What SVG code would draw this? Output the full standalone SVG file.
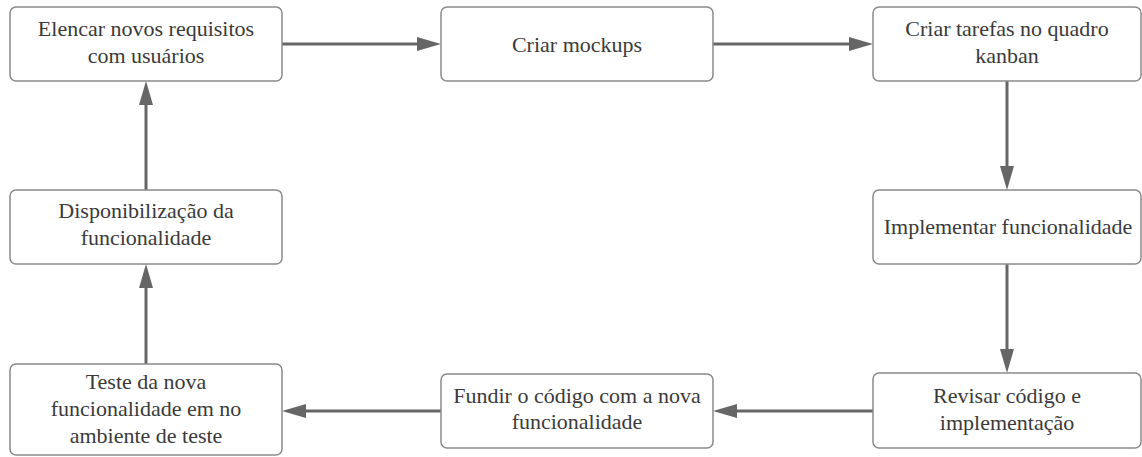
<svg xmlns="http://www.w3.org/2000/svg" width="1142" height="457" viewBox="0 0 1142 457">
<style>
.box{fill:#ffffff;stroke:#8a8a8a;stroke-width:1.5}
.t{font-family:"Liberation Serif","Times New Roman",serif;font-size:22px;fill:#3a3a3a;text-anchor:middle}
.c{fill:none;stroke:#666666;stroke-width:3}
</style>
<defs>
<marker id="ah" markerUnits="userSpaceOnUse" markerWidth="24" markerHeight="14" refX="4" refY="7" orient="auto">
<path d="M0,0 L24,7 L0,14 z" fill="#666666"/>
</marker>
</defs>
<rect width="1142" height="457" fill="#ffffff"/>
<g id="connectors">
<line class="c" x1="282" y1="44" x2="421" y2="44" marker-end="url(#ah)"/>
<line class="c" x1="713" y1="44" x2="853" y2="44" marker-end="url(#ah)"/>
<line class="c" x1="1007" y1="81" x2="1007" y2="170" marker-end="url(#ah)"/>
<line class="c" x1="1007" y1="264" x2="1007" y2="353" marker-end="url(#ah)"/>
<line class="c" x1="873" y1="411" x2="733" y2="411" marker-end="url(#ah)"/>
<line class="c" x1="441" y1="411" x2="302" y2="411" marker-end="url(#ah)"/>
<line class="c" x1="146" y1="364" x2="146" y2="284" marker-end="url(#ah)"/>
<line class="c" x1="146" y1="190" x2="146" y2="101" marker-end="url(#ah)"/>
</g>
<g id="n1">
<rect class="box" x="10" y="7" width="272" height="74" rx="6"/>
<text class="t" x="146" y="36">Elencar novos requisitos</text>
<text class="t" x="146" y="63">com usuários</text>
</g>
<g id="n2">
<rect class="box" x="441" y="7" width="272" height="74" rx="6"/>
<text class="t" x="577" y="52">Criar mockups</text>
</g>
<g id="n3">
<rect class="box" x="873" y="7" width="268" height="74" rx="6"/>
<text class="t" x="1007" y="36">Criar tarefas no quadro</text>
<text class="t" x="1007" y="63">kanban</text>
</g>
<g id="n4">
<rect class="box" x="873" y="190" width="268" height="74" rx="6"/>
<text class="t" x="1008" y="234">Implementar funcionalidade</text>
</g>
<g id="n5">
<rect class="box" x="873" y="373" width="268" height="75" rx="6"/>
<text class="t" x="1007" y="403">Revisar código e</text>
<text class="t" x="1007" y="430">implementação</text>
</g>
<g id="n6">
<rect class="box" x="441" y="374" width="272" height="74" rx="6"/>
<text class="t" x="577" y="403">Fundir o código com a nova</text>
<text class="t" x="577" y="429">funcionalidade</text>
</g>
<g id="n7">
<rect class="box" x="10" y="364" width="272" height="91" rx="6"/>
<text class="t" x="146" y="389">Teste da nova</text>
<text class="t" x="146" y="416">funcionalidade em no</text>
<text class="t" x="146" y="443">ambiente de teste</text>
</g>
<g id="n8">
<rect class="box" x="10" y="190" width="272" height="74" rx="6"/>
<text class="t" x="146" y="218">Disponibilização da</text>
<text class="t" x="146" y="245">funcionalidade</text>
</g>
</svg>
